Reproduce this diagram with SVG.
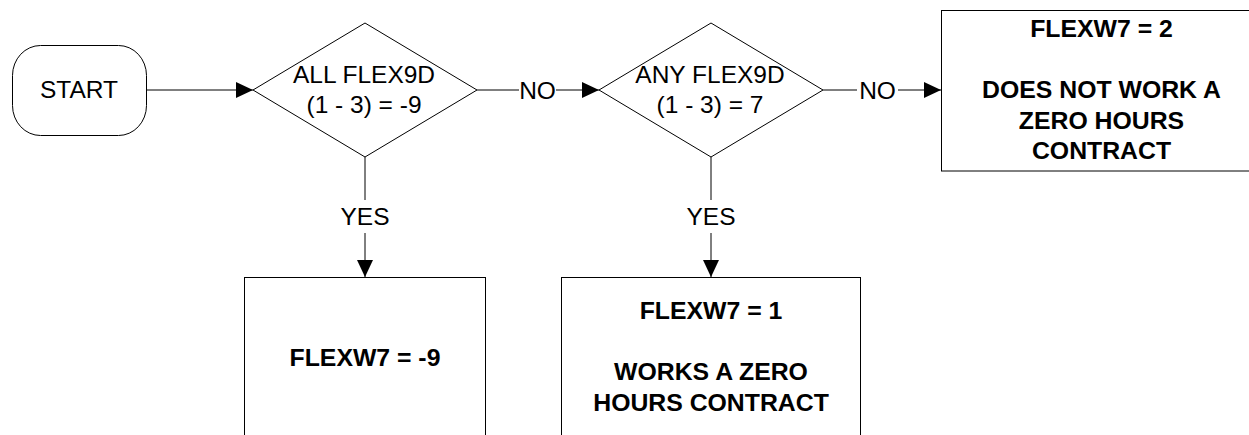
<svg xmlns="http://www.w3.org/2000/svg" width="1249" height="435" viewBox="0 0 1249 435">
<style>
.shape{fill:#fff;stroke:#000;stroke-width:1}
.conn{fill:none;stroke:#000;stroke-width:1}
.t{font-family:"Liberation Sans",Arial,sans-serif;font-size:24.5px;fill:#000;text-anchor:middle}
.b{font-family:"Liberation Sans",Arial,sans-serif;font-size:24.8px;font-weight:bold;fill:#000;text-anchor:middle}
</style>
<defs>
<marker id="arr" markerUnits="userSpaceOnUse" markerWidth="17" markerHeight="16" refX="17" refY="8" orient="auto">
<path d="M0,0 L17,8 L0,16 z" fill="#000"/>
</marker>
</defs>
<rect width="1249" height="435" fill="#fff"/>
<g id="start">
<rect class="shape" x="12.5" y="45.5" width="134" height="90" rx="28" ry="30"/>
<text class="t" x="79" y="98.3">START</text>
</g>
<g id="d1">
<polygon class="shape" points="253,90 365,23 477,90 365,157"/>
<text class="t" x="364" y="82.7">ALL FLEX9D</text>
<text class="t" x="364" y="113.3">(1 - 3) = -9</text>
</g>
<g id="d2">
<polygon class="shape" points="599,90 711,23 823,90 711,157"/>
<text class="t" x="710" y="82.7">ANY FLEX9D</text>
<text class="t" x="710" y="113.3">(1 - 3) = 7</text>
</g>
<g id="box1">
<rect class="shape" x="244.5" y="277.5" width="241" height="200"/>
<text class="b" x="365" y="365.7">FLEXW7 = -9</text>
</g>
<g id="box2">
<rect class="shape" x="561.5" y="277.5" width="299" height="200"/>
<text class="b" x="711" y="319.3">FLEXW7 = 1</text>
<text class="b" x="711" y="380.3">WORKS A ZERO</text>
<text class="b" x="711" y="410.8">HOURS CONTRACT</text>
</g>
<g id="box3">
<rect class="shape" x="941.5" y="10.5" width="321" height="160.5"/>
<text class="b" x="1101.5" y="37.3">FLEXW7 = 2</text>
<text class="b" x="1101.5" y="98.3">DOES NOT WORK A</text>
<text class="b" x="1101.5" y="128.8">ZERO HOURS</text>
<text class="b" x="1101.5" y="159.3">CONTRACT</text>
</g>
<g id="connectors">
<line class="conn" x1="147" y1="90" x2="253" y2="90" marker-end="url(#arr)"/>
<line class="conn" x1="477" y1="90" x2="519" y2="90"/>
<text class="t" x="537.5" y="98.5">NO</text>
<line class="conn" x1="556" y1="90" x2="599" y2="90" marker-end="url(#arr)"/>
<line class="conn" x1="823" y1="90" x2="857" y2="90"/>
<text class="t" x="877.5" y="98.5">NO</text>
<line class="conn" x1="898" y1="90" x2="941" y2="90" marker-end="url(#arr)"/>
<line class="conn" x1="365" y1="157" x2="365" y2="200"/>
<text class="t" x="365" y="225">YES</text>
<line class="conn" x1="365" y1="233" x2="365" y2="277" marker-end="url(#arr)"/>
<line class="conn" x1="711" y1="157" x2="711" y2="200"/>
<text class="t" x="711" y="225">YES</text>
<line class="conn" x1="711" y1="233" x2="711" y2="277" marker-end="url(#arr)"/>
</g>
</svg>
